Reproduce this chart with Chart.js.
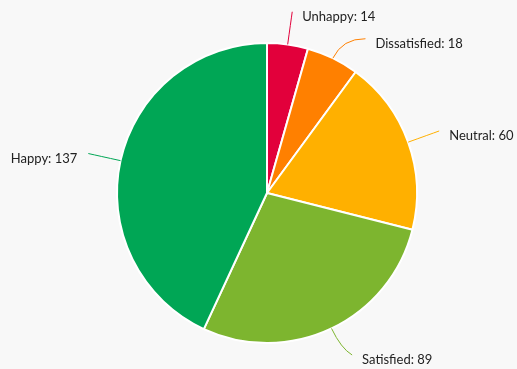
<!DOCTYPE html>
<html>
<head>
<meta charset="utf-8">
<script src="https://cdn.jsdelivr.net/npm/chart.js@4"></script>
<style>
  html, body { margin: 0; padding: 0; background: #f8f8f8; }
  #wrap { width: 517px; height: 369px; }
</style>
</head>
<body>
<div id="wrap"><canvas id="c" width="517" height="369"></canvas></div>
<script>
const categories = ['Unhappy', 'Dissatisfied', 'Neutral', 'Satisfied', 'Happy'];
const responses = [14, 18, 60, 89, 137];
const sliceColors = ['#e2003b', '#ff8000', '#ffb000', '#7db52f', '#00a655'];

// Outside labels joined to their slices by curved connector lines
const outsideLabels = {
  id: 'outsideLabels',
  afterDatasetsDraw(chart) {
    const ctx = chart.ctx;
    const meta = chart.getDatasetMeta(0);
    const H = chart.height;
    const items = meta.data.map((arc, i) => {
      const p = arc.getProps(['x', 'y', 'startAngle', 'endAngle', 'outerRadius'], true);
      const mid = (p.startAngle + p.endAngle) / 2;
      const R = p.outerRadius + 33;
      return {
        i, cx: p.x, cy: p.y, r: p.outerRadius, R, mid,
        right: Math.cos(mid) >= 0,
        y: p.y + R * Math.sin(mid)
      };
    });
    const gap = 27;
    [true, false].forEach(side => {
      const group = items.filter(it => it.right === side).sort((a, b) => a.y - b.y);
      for (let k = 1; k < group.length; k++) {
        if (group[k].y - group[k - 1].y < gap) group[k].y = group[k - 1].y + gap;
      }
      for (let k = group.length - 1; k >= 0; k--) {
        const lim = k === group.length - 1 ? H - 14 : group[k + 1].y - gap;
        if (group[k].y > lim) group[k].y = lim;
      }
    });
    ctx.save();
    ctx.font = '13px Lato';
    ctx.textBaseline = 'alphabetic';
    items.forEach(it => {
      const dy = it.y - it.cy;
      const dx = Math.sqrt(Math.max(it.R * it.R - dy * dy, 0));
      const ex = it.cx + (it.right ? dx : -dx);
      const ey = it.y;
      const sx = it.cx + it.r * Math.cos(it.mid);
      const sy = it.cy + it.r * Math.sin(it.mid);
      const qx = it.cx + (it.r + 22) * Math.cos(it.mid);
      const qy = it.cy + (it.r + 22) * Math.sin(it.mid);
      ctx.strokeStyle = sliceColors[it.i];
      ctx.lineWidth = 1;
      ctx.beginPath();
      ctx.moveTo(sx, sy);
      ctx.quadraticCurveTo(qx, qy, ex, ey);
      ctx.stroke();
      ctx.fillStyle = '#222222';
      ctx.textAlign = it.right ? 'left' : 'right';
      const text = categories[it.i] + ': ' + responses[it.i];
      ctx.fillText(text, ex + (it.right ? 10 : -11), ey + 9);
    });
    ctx.restore();
  }
};

new Chart(document.getElementById('c'), {
  type: 'pie',
  data: {
    labels: categories,
    datasets: [{
      data: responses,
      backgroundColor: sliceColors,
      borderColor: '#ffffff',
      borderWidth: 2,
      hoverOffset: 0
    }]
  },
  options: {
    responsive: false,
    animation: false,
    layout: { padding: { left: 116, right: 99, top: 42, bottom: 25 } },
    plugins: {
      legend: { display: false },
      tooltip: { enabled: false }
    }
  },
  plugins: [outsideLabels]
});
</script>
</body>
</html>
